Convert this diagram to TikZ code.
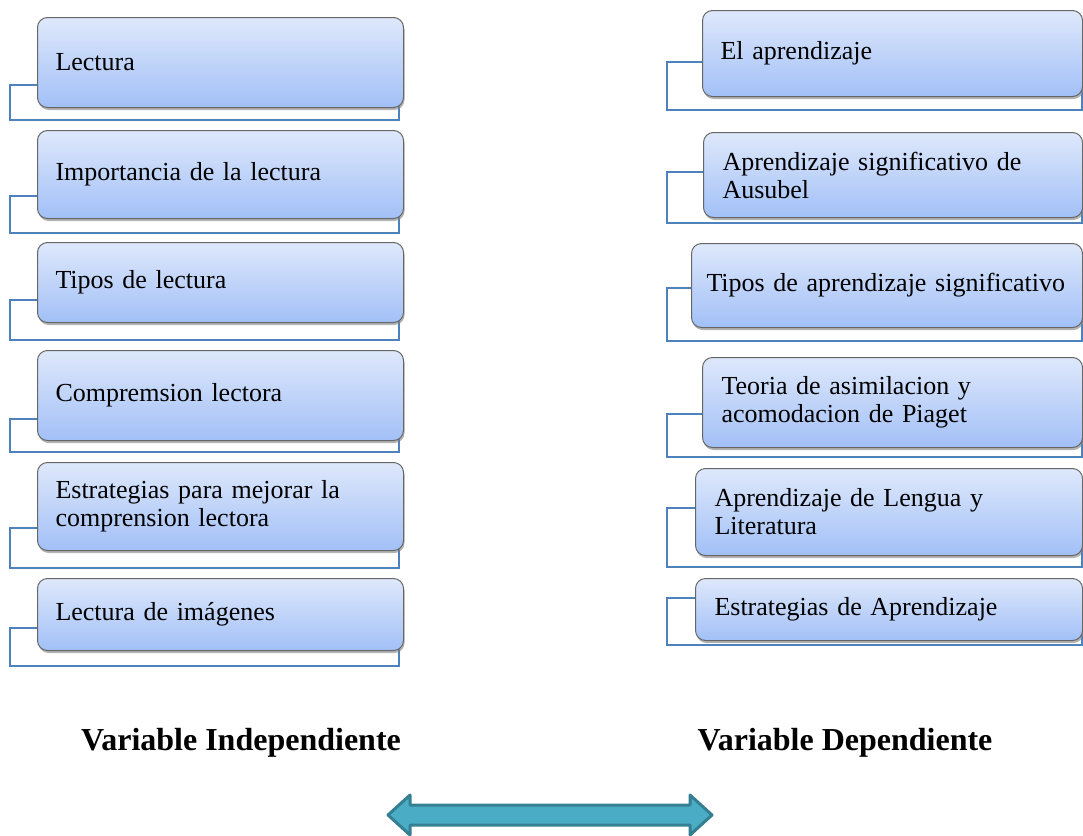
\documentclass[tikz,border=0pt]{standalone}
\usepackage{fontspec}
\setmainfont{Liberation Serif}
\usetikzlibrary{shadows}

\definecolor{cajaarriba}{HTML}{DEE8FB}
\definecolor{cajaabajo}{HTML}{A2C0F7}
\definecolor{marcoazul}{HTML}{4F81BD}
\definecolor{flechafondo}{HTML}{4BACC6}
\definecolor{flechaborde}{HTML}{347F92}

\begin{document}
\begin{tikzpicture}[x=1pt, y=-1pt,
  tema/.style={rectangle, rounded corners=10pt, draw=black!60, line width=1pt,
    top color=cajaarriba, bottom color=cajaabajo,
    drop shadow={shadow xshift=1pt, shadow yshift=-2.5pt, opacity=0.6},
    anchor=north west, align=left, inner xsep=18pt, inner ysep=0pt,
    font=\fontsize{26}{28}\selectfont},
  marco/.style={draw=marcoazul, line width=1.5pt},
  titulo/.style={font=\fontsize{32}{38}\selectfont\bfseries},
  flecha/.style={fill=flechafondo, draw=flechaborde, line width=3pt, line join=round}]
\useasboundingbox (0,0) rectangle (1083,835);

% marcos de la variable independiente
\draw[marco] (10,85) rectangle (399,120);
\draw[marco] (10,196) rectangle (399,233);
\draw[marco] (10,300) rectangle (399,340);
\draw[marco] (10,419) rectangle (399,452);
\draw[marco] (10,528) rectangle (399,568);
\draw[marco] (10,628) rectangle (399,666);

% marcos de la variable dependiente
\draw[marco] (667,62) rectangle (1082,110);
\draw[marco] (667,172) rectangle (1082,223);
\draw[marco] (667,288) rectangle (1082,341);
\draw[marco] (667,414) rectangle (1082,457);
\draw[marco] (667,508) rectangle (1082,567);
\draw[marco] (667,598) rectangle (1082,645);

% variable independiente
\node (lectura) [tema, minimum width=366pt, minimum height=90pt, text width=330pt] at (37,17) {Lectura};
\node (importancia) [tema, minimum width=366pt, minimum height=88pt, text width=330pt] at (37,130) {Importancia de la lectura};
\node (tipos) [tema, minimum width=366pt, minimum height=80pt, text width=330pt] at (37,242) {Tipos de lectura};
\node (comprension) [tema, minimum width=366pt, minimum height=90pt, text width=330pt] at (37,350) {Compremsion lectora};
\node (estrategias) [tema, minimum width=366pt, minimum height=88pt, text width=330pt] at (37,462) {Estrategias para mejorar la\\comprension lectora};
\node (imagenes) [tema, minimum width=366pt, minimum height=72pt, text width=330pt] at (37,578) {Lectura de imágenes};

% variable dependiente
\node (aprendizaje) [tema, minimum width=380pt, minimum height=86pt, text width=344pt] at (702,10) {El aprendizaje};
\node (ausubel) [tema, minimum width=379pt, minimum height=85pt, text width=341pt, inner xsep=19pt] at (703,132) {Aprendizaje significativo de\\Ausubel};
\node (tiposap) [tema, minimum width=391pt, minimum height=84pt, text width=361pt, inner xsep=15pt] at (691,243) {Tipos de aprendizaje significativo};
\node (piaget) [tema, minimum width=380pt, minimum height=90pt, text width=342pt, inner xsep=19pt] at (702,357) {Teoria de asimilacion y\\acomodacion de Piaget};
\node (lengua) [tema, minimum width=387pt, minimum height=87pt, text width=349pt, inner xsep=19pt] at (695,468) {Aprendizaje de Lengua y\\Literatura};
\node (estrategiasap) [tema, minimum width=387pt, minimum height=62pt, text width=349pt, inner xsep=19pt] at (695,578) {Estrategias de Aprendizaje};

% titulos
\node (vi) [titulo] at (241,743) {Variable Independiente};
\node (vd) [titulo] at (845,743) {Variable Dependiente};

% flecha doble
\draw[flecha] (388,815) -- (410,795) -- (410,805) -- (690,805) -- (690,795) -- (712,815)
  -- (690,835) -- (690,825) -- (410,825) -- (410,835) -- cycle;
\end{tikzpicture}
\end{document}
